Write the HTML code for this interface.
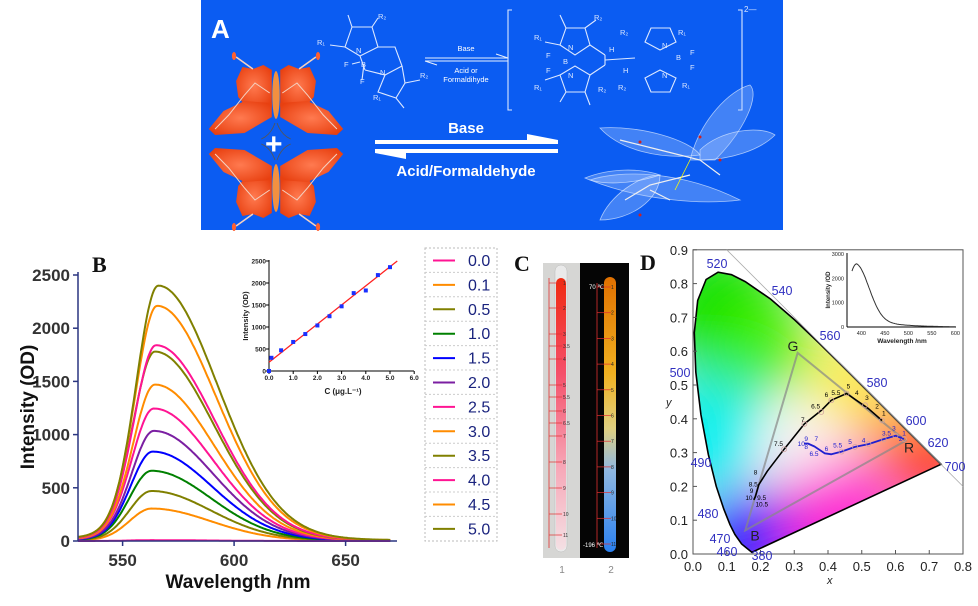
<!DOCTYPE html>
<html><head><meta charset="utf-8"><style>
body{margin:0;background:#fff;}
svg{display:block;font-family:"Liberation Sans",sans-serif;}
</style></head><body>
<svg id="s" width="978" height="606" viewBox="0 0 978 606" xmlns="http://www.w3.org/2000/svg">
<defs>
<filter id="bl" x="-50%" y="-50%" width="200%" height="200%"><feGaussianBlur stdDeviation="28"/></filter>
<linearGradient id="t1" x1="0" y1="0" x2="0" y2="1"><stop offset="0" stop-color="#f02a10"/><stop offset="0.35" stop-color="#f5506a"/><stop offset="0.7" stop-color="#f7a8b8"/><stop offset="1" stop-color="#f4e0e4"/></linearGradient>
<linearGradient id="t2" x1="0" y1="0" x2="0" y2="1"><stop offset="0" stop-color="#e07000"/><stop offset="0.35" stop-color="#f0b020"/><stop offset="0.55" stop-color="#e0d080"/><stop offset="0.7" stop-color="#90b8e0"/><stop offset="1" stop-color="#2a80f0"/></linearGradient>
<radialGradient id="wing" cx="0.5" cy="0.5" r="0.6"><stop offset="0" stop-color="#ff7a50"/><stop offset="1" stop-color="#e84010"/></radialGradient>
<clipPath id="loc"><path id="locp"/></clipPath>
</defs>

<rect x="201" y="0" width="582" height="230" fill="#0b5cf2"/>
<text x="211" y="38" font-size="26" font-weight="bold" fill="#fff">A</text>
<g id="bf"></g>
<text x="265" y="154" font-size="30" font-weight="bold" fill="#fff">+</text>
<g stroke="#fff" stroke-width="1" fill="none" opacity="0.9">
<line x1="425" y1="58" x2="508" y2="58"/><line x1="425" y1="61" x2="508" y2="61"/><path d="M496,54 L508,58"/><path d="M437,65 L425,61"/>
</g>
<text x="466" y="51" font-size="7.5" fill="#fff" text-anchor="middle">Base</text>
<text x="466" y="73" font-size="7.5" fill="#fff" text-anchor="middle">Acid or</text>
<text x="466" y="82" font-size="7.5" fill="#fff" text-anchor="middle">Formaldihyde</text>
<g stroke="#dde8ff" stroke-width="1.1" fill="none">
<path d="M345,47 L352,27 L372,27 L378,47 L360,56 Z"/>
<path d="M378,47 L395,47 L402,66 L385,75 L365,70"/>
<path d="M352,27 L348,15"/><path d="M372,27 L378,18"/>
<path d="M345,47 L330,45"/><path d="M360,56 L365,70"/>
<path d="M385,75 L378,92 L396,98 L405,83 L402,66"/>
<path d="M405,83 L420,80"/><path d="M396,98 L404,108"/>
<path d="M360,62 L352,64"/><path d="M364,64 L362,80"/>
</g>
<g fill="#dde8ff" font-size="7.5">
<text x="317" y="45">R₁</text><text x="378" y="19">R₂</text><text x="356" y="53">N</text><text x="361" y="67">B</text><text x="344" y="67">F</text><text x="360" y="84">F</text><text x="380" y="75">N</text><text x="420" y="78">R₂</text><text x="373" y="100">R₁</text>
</g>
<g stroke="#dde8ff" stroke-width="1.1" fill="none">
<path d="M512,10 L508,10 L508,110 L512,110"/><path d="M738,10 L742,10 L742,110 L738,110"/>
<path d="M560,45 L566,28 L585,28 L590,45 L575,55 Z"/><path d="M590,45 L605,55"/>
<path d="M560,75 L566,92 L585,92 L590,75 L575,66 Z"/><path d="M590,75 L605,65"/>
<path d="M605,55 L605,65"/><path d="M605,60 L635,58"/>
<path d="M645,42 L651,28 L670,28 L676,42 L660,50 Z"/>
<path d="M645,78 L651,92 L670,92 L676,78 L660,70 Z"/>
<path d="M566,28 L560,15"/><path d="M585,92 L590,105"/><path d="M560,45 L545,42"/><path d="M560,75 L545,80"/>
<path d="M585,28 L596,20"/><path d="M566,92 L560,102"/>
</g>
<g fill="#dde8ff" font-size="7.5">
<text x="534" y="40">R₁</text><text x="594" y="20">R₂</text><text x="568" y="50">N</text><text x="563" y="64">B</text><text x="546" y="58">F</text><text x="546" y="73">F</text><text x="568" y="78">N</text><text x="534" y="90">R₁</text><text x="598" y="92">R₂</text>
<text x="609" y="52">H</text><text x="623" y="73">H</text><text x="620" y="35">R₂</text><text x="678" y="35">R₁</text><text x="662" y="48">N</text><text x="676" y="60">B</text><text x="690" y="55">F</text><text x="690" y="70">F</text><text x="662" y="78">N</text><text x="682" y="88">R₁</text><text x="618" y="90">R₂</text>
<text x="744" y="12" font-size="8">2—</text>
</g>
<g fill="#fff">
<rect x="375" y="140" width="183" height="4"/><path d="M527,134 L558,140 L527,140 Z"/>
<rect x="375" y="149" width="183" height="4"/><path d="M406,159 L375,153 L406,153 Z"/>
</g>
<text x="466" y="133" font-size="15" font-weight="bold" fill="#fff" text-anchor="middle">Base</text>
<text x="466" y="176" font-size="15" font-weight="bold" fill="#fff" text-anchor="middle">Acid/Formaldehyde</text>
<g fill="#a8c8ff" fill-opacity="0.35" stroke="#e0ecff" stroke-width="0.8" stroke-opacity="0.7">
<path d="M690,160 C700,120 730,90 750,85 C760,95 745,130 715,160 Z"/>
<path d="M700,150 C720,130 760,125 775,135 C760,150 730,160 700,160 Z"/>
<path d="M600,128 C640,125 690,140 700,155 C660,160 620,150 600,128 Z"/>
<path d="M590,180 C620,170 680,170 740,200 C700,205 640,200 590,180 Z"/>
<path d="M600,220 C610,195 640,175 660,175 C660,200 630,220 600,220 Z"/>
<path d="M585,178 C610,168 640,168 660,175 C630,185 600,185 585,178 Z"/>
</g>
<g stroke="#f0f0f0" stroke-width="1.2" fill="none"><path d="M620,140 L660,150 L700,160 L720,175"/><path d="M625,200 L650,185 L690,175"/><path d="M650,190 L670,200"/></g>
<g fill="#d02020"><circle cx="640" cy="142" r="1.5"/><circle cx="700" cy="137" r="1.5"/><circle cx="640" cy="215" r="1.5"/><circle cx="720" cy="160" r="1.5"/></g>
<line x1="690" y1="160" x2="675" y2="190" stroke="#ff0" stroke-width="0.8"/>

<text x="92" y="272" font-family="Liberation Serif,serif" font-size="22" font-weight="bold" fill="#111">B</text>
<g id="bcurves"></g>
<line x1="78" y1="272" x2="78" y2="541" stroke="#2a3580" stroke-width="1.5"/>
<line x1="78" y1="541" x2="397" y2="541" stroke="#2a3580" stroke-width="1.5"/>
<g id="bticks" font-size="17" font-weight="bold" fill="#333"></g>
<text transform="translate(34,407) rotate(-90)" font-size="19" font-weight="bold" fill="#111" text-anchor="middle">Intensity (OD)</text>
<text x="238" y="588" font-size="19" font-weight="bold" fill="#111" text-anchor="middle">Wavelength /nm</text>
<g id="binset" font-size="6.5" font-weight="bold" fill="#222"></g>
<g id="leg"></g>

<text x="514" y="271" font-family="Liberation Serif,serif" font-size="22" font-weight="bold" fill="#111">C</text>
<rect x="543" y="263" width="37" height="295" fill="#d6d6d4"/>
<rect x="580" y="263" width="49" height="295" fill="#050505"/>
<rect x="555" y="265" width="12" height="287" rx="6" fill="#eaeaea" stroke="#bbb" stroke-width="0.5"/>
<rect x="556" y="278" width="10" height="272" rx="5" fill="url(#t1)"/>
<rect x="604" y="277" width="12" height="275" rx="6" fill="url(#t2)"/>
<g id="cscale"></g>
<text x="562" y="573" font-size="10" fill="#888" text-anchor="middle">1</text>
<text x="611" y="573" font-size="10" fill="#888" text-anchor="middle">2</text>
<text x="589" y="289" font-size="6" fill="#fff">70 ℃</text>
<text x="583" y="547" font-size="6" fill="#fff">-196 ℃</text>

<g clip-path="url(#loc)">
<rect x="690" y="250" width="280" height="310" fill="#f4f0f0"/>
<g filter="url(#bl)">
<circle id="cg" r="70" fill="#00e000"/>
<circle id="cc" r="55" fill="#00f0f0"/>
<circle id="cb" r="50" fill="#0010ff"/>
<circle id="cm" r="55" fill="#ff00d0"/>
<circle id="cr" r="45" fill="#ff0010"/>
<circle id="cy" r="38" fill="#ffee00"/>
<circle id="cw" r="30" fill="#ffffff"/>
<circle id="cg2" r="50" fill="#40f000"/>
<circle id="co" r="30" fill="#ff9000"/>
</g>
</g>
<path id="locs" fill="none" stroke="#000" stroke-width="1.6"/>
<rect x="840" y="251" width="122" height="94" fill="#fff"/>
<g id="dplot"></g>
<text x="640" y="270" font-family="Liberation Serif,serif" font-size="22" font-weight="bold" fill="#111">D</text>
</svg>
<script>
var NS='http://www.w3.org/2000/svg';
function sq(v){return v*v;}
function el(p,t,a,txt){var e=document.createElementNS(NS,t);for(var k in a)e.setAttribute(k,a[k]);if(txt!==undefined)e.textContent=txt;p.appendChild(e);return e;}
var bf=document.getElementById('bf');
function butterfly(cx,cy,flip){
 var g=el(bf,'g',{transform:'translate('+cx+','+cy+') scale(1.05,'+flip+')'});
 [-1,1].forEach(function(sx){
  var up=[[-4,-33],[-12,-38],[-22,-34],[-32,-36],[-38,-22],[-36,-6],[-28,4],[-4,4]];
  var lo=[[-4,0],[-30,-2],[-50,8],[-64,26],[-58,32],[-30,30],[-4,14]];
  el(g,'path',{d:'M'+up.map(function(p){return (p[0]*sx)+','+p[1];}).join(' L')+'Z',fill:'url(#wing)'});
  el(g,'path',{d:'M'+lo.map(function(p){return (p[0]*sx)+','+p[1];}).join(' L')+'Z',fill:'url(#wing)'});
  el(g,'path',{d:'M'+(-6*sx)+',-10 L'+(-20*sx)+',-20 L'+(-30*sx)+',-8 L'+(-45*sx)+',12 L'+(-58*sx)+',26',stroke:'#f4d0c0','stroke-width':1,fill:'none'});
  el(g,'path',{d:'M'+(-22*sx)+',-34 L'+(-38*sx)+',-46',stroke:'#f4d0c0','stroke-width':1.5,fill:'none'});
  el(g,'ellipse',{cx:-40*sx,cy:-47,rx:2,ry:4,fill:'#ff6030'});
  el(g,'path',{d:'M'+(-1*sx)+',20 Q'+(-5*sx)+',32 '+(-14*sx)+',36',stroke:'#555','stroke-width':0.8,fill:'none'});
 });
 el(g,'ellipse',{cx:0,cy:-8,rx:3.5,ry:24,fill:'#f29040'});
}
butterfly(276,103,1);butterfly(276,180,-1);

function X(l){return 78+(l-530)*2.23;} function Y(v){return 541-v*0.1064;}
var data=[[305,'#ff8c00',563],[470,'#808000',563],[660,'#008000',563],[840,'#0000ff',563.5],[1035,'#7b1fa2',564],[1245,'#ff1493',564],[1470,'#ff8c00',564.5],[1780,'#808000',564.5],[1840,'#ff1493',565],[2210,'#ff8c00',565.5],[2400,'#808000',566],[8,'#ff1493',563]];
var bc=document.getElementById('bcurves');
data.forEach(function(r){
 var pk=r[0],c=r[1],p=r[2],d='';
 for(var l=530;l<=670;l+=0.5){
  var dd=l-p,f;
  if(dd<0){var a=-dd;f=0.9*Math.exp(-sq(a/14))+0.1/(1+sq(a/15));}
  else f=0.95*Math.exp(-sq(dd/38))+0.05/(1+sq(dd/30));
  d+=(d?'L':'M')+X(l).toFixed(1)+','+Y(pk*f).toFixed(1);
 }
 el(bc,'path',{d:d,stroke:c,'stroke-width':2,fill:'none'});
});
var bt=document.getElementById('bticks');
for(var v=0;v<=2500;v+=500){el(bt,'text',{x:70,y:Y(v)+6,'text-anchor':'end'},v);el(bt,'line',{x1:73,x2:78,y1:Y(v),y2:Y(v),stroke:'#2a3580','stroke-width':1.5});}
[550,600,650].forEach(function(l){el(bt,'text',{x:X(l),y:566,'text-anchor':'middle'},l);el(bt,'line',{x1:X(l),x2:X(l),y1:541,y2:546,stroke:'#2a3580','stroke-width':1.5});});
var bi=document.getElementById('binset');
function ix(c){return 269+c*24.2;} function iy(v){return 371-v*0.044;}
el(bi,'line',{x1:269,y1:260,x2:269,y2:371,stroke:'#000','stroke-width':1});
el(bi,'line',{x1:269,y1:371,x2:414,y2:371,stroke:'#000','stroke-width':1});
for(var v=0;v<=2500;v+=500){el(bi,'text',{x:266,y:iy(v)+2.5,'text-anchor':'end'},v);el(bi,'line',{x1:266,x2:269,y1:iy(v),y2:iy(v),stroke:'#000'});}
for(var c=0;c<=6;c++){el(bi,'text',{x:ix(c),y:380,'text-anchor':'middle'},c.toFixed(1));el(bi,'line',{x1:ix(c),x2:ix(c),y1:371,y2:374,stroke:'#000'});}
el(bi,'line',{x1:ix(0),y1:iy(200),x2:ix(5.3),y2:iy(2500),stroke:'#ff2020','stroke-width':1.3});
[[0,0],[0.1,300],[0.5,470],[1,660],[1.5,840],[2,1035],[2.5,1245],[3,1470],[3.5,1770],[4,1830],[4.5,2180],[5,2360]].forEach(function(q){el(bi,'rect',{x:ix(q[0])-2,y:iy(q[1])-2,width:4,height:4,fill:'#1a30ff'});});
el(bi,'text',{transform:'translate(248,316) rotate(-90)','text-anchor':'middle','font-size':7.5},'Intensity (OD)');
el(bi,'text',{x:343,y:394,'text-anchor':'middle','font-size':8},'C (μg.L⁻¹)');
var lg=document.getElementById('leg');
var lc=['#ff1493','#ff8c00','#808000','#008000','#0000ff','#7b1fa2','#ff1493','#ff8c00','#808000','#ff1493','#ff8c00','#808000'];
var lt=['0.0','0.1','0.5','1.0','1.5','2.0','2.5','3.0','3.5','4.0','4.5','5.0'];
el(lg,'rect',{x:425,y:248,width:72,height:293,fill:'none',stroke:'#bbb','stroke-dasharray':'2,2'});
for(var i=0;i<12;i++){var y=248+i*24.4;
 if(i)el(lg,'line',{x1:425,x2:497,y1:y,y2:y,stroke:'#ccc','stroke-dasharray':'2,2'});
 el(lg,'line',{x1:433,x2:455,y1:y+12.5,y2:y+12.5,stroke:lc[i],'stroke-width':2});
 el(lg,'text',{x:468,y:y+18,'font-size':16,fill:'#1a237e'},lt[i]);}
var cs=document.getElementById('cscale');
el(cs,'line',{x1:549,x2:549,y1:278,y2:548,stroke:'#e03030','stroke-width':0.8});
el(cs,'line',{x1:597,x2:597,y1:283,y2:548,stroke:'#e03030','stroke-width':0.8});
[[1,283],[2,308],[3,334],[3.5,346],[4,359],[5,385],[5.5,397],[6,411],[6.5,423],[7,436],[8,462],[9,488],[10,514],[11,535]].forEach(function(q){el(cs,'line',{x1:549,x2:562,y1:q[1],y2:q[1],stroke:'#e03030','stroke-width':0.7});el(cs,'text',{x:563,y:q[1]+2,'font-size':5,fill:'#333'},q[0]);});
for(var n=1;n<=11;n++){var yy=287+(n-1)*25.7;el(cs,'line',{x1:597,x2:611,y1:yy,y2:yy,stroke:'#e03030','stroke-width':0.7});el(cs,'text',{x:611,y:yy+2,'font-size':5,fill:'#222'},n);}
function DX(x){return 693+x*337.5;} function DY(y){return 554-y*338;}
var loc=[[0.1741,0.005],[0.144,0.0297],[0.1241,0.0578],[0.1096,0.0868],[0.0913,0.1327],[0.0687,0.2007],[0.0454,0.295],[0.0235,0.4127],[0.0082,0.5384],[0.0039,0.6548],[0.0139,0.7502],[0.0389,0.812],[0.0743,0.8338],[0.1142,0.8262],[0.1547,0.8059],[0.2296,0.7543],[0.3016,0.6923],[0.3731,0.6245],[0.4441,0.5547],[0.5125,0.4866],[0.5752,0.4242],[0.627,0.3725],[0.6658,0.334],[0.6915,0.3083],[0.719,0.2809],[0.7347,0.2653]];
var ld='';loc.forEach(function(p,i){ld+=(i?'L':'M')+DX(p[0]).toFixed(1)+','+DY(p[1]).toFixed(1);});ld+='Z';
document.getElementById('locp').setAttribute('d',ld);document.getElementById('locs').setAttribute('d',ld);
var cp={cg:[0.08,0.72],cg2:[0.2,0.62],cc:[0.04,0.36],cb:[0.16,0.04],cm:[0.42,0.14],cr:[0.7,0.27],cy:[0.45,0.5],cw:[0.33,0.33],co:[0.58,0.38]};
for(var k in cp){var e=document.getElementById(k);e.setAttribute('cx',DX(cp[k][0]));e.setAttribute('cy',DY(cp[k][1]));}
var dp=document.getElementById('dplot');
el(dp,'rect',{x:DX(0),y:DY(0.9),width:DX(0.8)-DX(0),height:DY(0)-DY(0.9),fill:'none',stroke:'#555','stroke-width':1});
el(dp,'line',{x1:DX(0.1),y1:DY(0.9),x2:DX(0.8),y2:DY(0.2),stroke:'#aaa','stroke-width':0.8});
for(var i=0;i<=9;i++){var v=i/10;el(dp,'text',{x:DX(0)-5,y:DY(v)+5,'text-anchor':'end','font-size':13,fill:'#222'},v.toFixed(1));el(dp,'line',{x1:DX(0),x2:DX(0)+4,y1:DY(v),y2:DY(v),stroke:'#555'});}
for(var i=0;i<=8;i++){var v=i/10;el(dp,'text',{x:DX(v),y:571,'text-anchor':'middle','font-size':13,fill:'#222'},v.toFixed(1));el(dp,'line',{x1:DX(v),x2:DX(v),y1:DY(0),y2:DY(0)-4,stroke:'#555'});}
el(dp,'text',{x:666,y:406,'font-size':11,'font-style':'italic',fill:'#222'},'y');
el(dp,'text',{x:827,y:584,'font-size':11,'font-style':'italic',fill:'#222'},'x');
var G=[0.31,0.595],B=[0.155,0.07],R=[0.63,0.335];
el(dp,'path',{d:'M'+DX(G[0])+','+DY(G[1])+'L'+DX(B[0])+','+DY(B[1])+'L'+DX(R[0])+','+DY(R[1])+'Z',fill:'none',stroke:'#888','stroke-width':2,'stroke-opacity':0.7});
el(dp,'text',{x:DX(0.28),y:DY(0.6),'font-size':14,fill:'#222'},'G');
el(dp,'text',{x:DX(0.17),y:DY(0.04),'font-size':14,fill:'#222'},'B');
el(dp,'text',{x:DX(0.625),y:DY(0.3),'font-size':14,fill:'#222'},'R');
function pl(pts,c,w){var d='';pts.forEach(function(p,i){d+=(i?'L':'M')+DX(p[0]).toFixed(1)+','+DY(p[1]).toFixed(1);});el(dp,'path',{d:d,stroke:c,'stroke-width':w,fill:'none','stroke-linejoin':'round'});}
pl([[0.56,0.395],[0.52,0.43],[0.455,0.475],[0.41,0.455],[0.38,0.425],[0.33,0.385],[0.27,0.31],[0.22,0.245],[0.195,0.205],[0.185,0.17],[0.18,0.16]],'#000',1.6);
pl([[0.625,0.34],[0.6,0.35],[0.565,0.34],[0.52,0.325],[0.48,0.317],[0.44,0.303],[0.41,0.295],[0.39,0.298],[0.36,0.318],[0.34,0.327],[0.33,0.327]],'#2020d0',1.8);
[[0.56,0.395],[0.51,0.44],[0.455,0.475],[0.41,0.455],[0.38,0.42],[0.33,0.385],[0.27,0.31],[0.625,0.34],[0.6,0.35],[0.565,0.34],[0.52,0.325],[0.48,0.317],[0.44,0.303]].forEach(function(q){el(dp,'circle',{cx:DX(q[0]),cy:DY(q[1]),r:2.5,fill:'none',stroke:'#d0a0a0','stroke-width':0.7});});
[['5',0.455,0.49,'#000'],['4',0.48,0.47,'#000'],['3',0.51,0.455,'#000'],['2',0.54,0.43,'#000'],['1',0.56,0.41,'#000'],['6',0.39,0.465,'#000'],['5.5',0.41,0.47,'#000'],['6.5',0.35,0.43,'#000'],['7',0.32,0.39,'#000'],['7.5',0.24,0.32,'#000'],['8',0.18,0.235,'#000'],['8.5',0.165,0.2,'#000'],['9',0.168,0.18,'#000'],['10',0.155,0.16,'#000'],['9.5',0.19,0.16,'#000'],['10.5',0.185,0.14,'#000'],['3.5',0.56,0.35,'#2020d0'],['3',0.59,0.365,'#2020d0'],['4',0.5,0.33,'#2020d0'],['5',0.46,0.325,'#2020d0'],['5.5',0.415,0.315,'#2020d0'],['6',0.39,0.305,'#2020d0'],['9',0.33,0.335,'#2020d0'],['7',0.36,0.335,'#2020d0'],['10',0.31,0.32,'#2020d0'],['8',0.33,0.31,'#2020d0'],['6.5',0.345,0.29,'#2020d0'],['1',0.62,0.35,'#2020d0'],['2',0.61,0.335,'#2020d0']].forEach(function(q){el(dp,'text',{x:DX(q[1]),y:DY(q[2]),'font-size':6.5,fill:q[3]},q[0]);});
[['520',717,268],['540',782,295],['560',830,340],['580',877,387],['600',916,425],['620',938,447],['700',955,471],['500',680,377],['490',701,467],['480',708,518],['470',720,543],['460',727,556],['380',762,560]].forEach(function(q){el(dp,'text',{x:q[1],y:q[2],'text-anchor':'middle','font-size':12.5,fill:'#3030c0'},q[0]);});
function jx(l){return 852+(l-380)*0.47;} function jy(v){return 327-v*0.0243;}
el(dp,'line',{x1:847,y1:253,x2:847,y2:327,stroke:'#000'});el(dp,'line',{x1:847,y1:327,x2:956,y2:327,stroke:'#000'});
for(var v=0;v<=3000;v+=1000)el(dp,'text',{x:844,y:jy(v)+2,'text-anchor':'end','font-size':5.5,fill:'#222'},v);
for(var l=400;l<=600;l+=50)el(dp,'text',{x:jx(l),y:335,'text-anchor':'middle','font-size':5.5,fill:'#222'},l);
var cd='';for(var l=380;l<=600;l+=2){var vv=l<390?2300+300*(1-sq((390-l)/10)):2600*(0.8*Math.exp(-sq((l-390)/38))+0.2*Math.exp(-(l-390)/55));cd+=(cd?'L':'M')+jx(l).toFixed(1)+','+jy(vv).toFixed(1);}
el(dp,'path',{d:cd,stroke:'#333','stroke-width':1,fill:'none'});
el(dp,'text',{transform:'translate(830,290) rotate(-90)','text-anchor':'middle','font-size':6,'font-weight':'bold',fill:'#222'},'Intensity /OD');
el(dp,'text',{x:902,y:343,'text-anchor':'middle','font-size':6.5,'font-weight':'bold',fill:'#222'},'Wavelength /nm');
</script>
</body></html>
